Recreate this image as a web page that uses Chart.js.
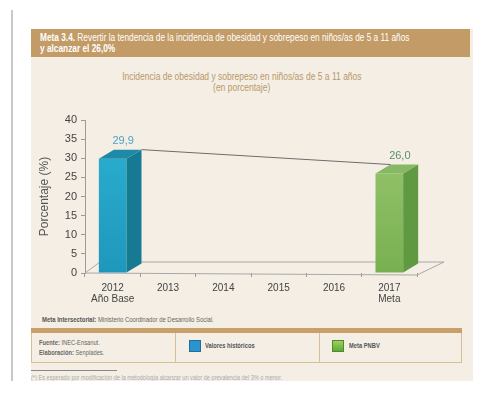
<!DOCTYPE html>
<html lang="es">
<head>
<meta charset="utf-8">
<script src="https://cdn.jsdelivr.net/npm/chart.js@4/dist/chart.umd.min.js"></script>
<style>
  html, body { margin: 0; padding: 0; background: #fff; }
  body { width: 483px; height: 394px; position: relative; overflow: hidden;
         font-family: "Liberation Sans", Arial, sans-serif; }
  .n { display: inline-block; white-space: nowrap; transform-origin: left center; }
  .edge { position: absolute; left: 11px; top: 10px; width: 2px; height: 384px; background: #c9c9c9; }
  .sheet { position: absolute; left: 31px; top: 29px; width: 442px; height: 352px; background: #f4eee4; }
  .head { position: absolute; left: 31px; top: 29px; width: 439px; height: 28px; background: #c29b66;
          color: #fff; font-size: 10px; line-height: 11px; box-sizing: border-box; padding: 3px 0 0 9px; }
  .head .n { transform: scaleX(0.83); }
  .ctitle { position: absolute; left: 31px; top: 71px; width: 422px; text-align: center;
            color: #b8996a; font-size: 10px; line-height: 11px; }
  .ctitle .n { transform: scaleX(0.85); transform-origin: center; }
  .chart { position: absolute; left: 31px; top: 106px; width: 442px; height: 205px; }
  .inter { position: absolute; left: 42px; top: 315px; font-size: 8px; color: #666; }
  .inter .n { transform: scaleX(0.74); }
  .inter b { color: #555; }
  .band { position: absolute; left: 31px; top: 328px; width: 431px; height: 5px; background: #c9a06a; }
  .tbl { position: absolute; left: 31px; top: 333px; width: 431px; height: 30px; box-sizing: border-box;
         border: 1px solid #d9bf98; border-top: none; }
  .cell { position: absolute; top: 0; height: 29px; box-sizing: border-box; font-size: 8px; color: #666; }
  .cell .n { transform: scaleX(0.72); }
  .c1 { left: 0; width: 144px; padding: 5px 0 0 7px; line-height: 10px; border-right: 1px solid #d9bf98; }
  .c2 { left: 144px; width: 144px; border-right: 1px solid #d9bf98; }
  .c3 { left: 288px; width: 142px; }
  .sw { position: absolute; top: 7px; width: 12px; height: 12px; box-sizing: border-box; }
  .lab { position: absolute; top: 8px; font-weight: bold; color: #555; font-size: 8px; }
  .rule { position: absolute; left: 31px; top: 370px; width: 86px; height: 1px; background: #888; }
  .note { position: absolute; left: 31px; top: 374px; font-size: 6.5px; color: #aaa; }
  .note .n { transform: scaleX(0.86); }
  .foot { position: absolute; left: 0; top: 381px; width: 483px; height: 13px; background: #fff; }
</style>
</head>
<body>
<div class="edge"></div>
<div class="sheet"></div>
<div class="head"><span class="n"><b>Meta 3.4.</b> Revertir la tendencia de la incidencia de obesidad y sobrepeso en niños/as de 5 a 11 años</span><br><span class="n"><b>y alcanzar el 26,0%</b></span></div>
<div class="ctitle"><span class="n">Incidencia de obesidad y sobrepeso en niños/as de 5 a 11 años</span><br><span class="n">(en porcentaje)</span></div>
<div class="chart"><canvas id="chart"></canvas></div>
<div class="inter"><span class="n"><b>Meta Intersectorial:</b> Ministerio Coordinador de Desarrollo Social.</span></div>
<div class="band"></div>
<div class="tbl">
  <div class="cell c1"><span class="n"><b>Fuente:</b> INEC-Ensanut.</span><br><span class="n"><b>Elaboración:</b> Senplades.</span></div>
  <div class="cell c2"><div class="sw" style="left:13px;background:#2b93cf;border:1px solid #1f6f9e"></div><div class="lab" style="left:29px"><span class="n">Valores históricos</span></div></div>
  <div class="cell c3"><div class="sw" style="left:12px;background:linear-gradient(#9fd25a,#5ea83c);border:1px solid #4f8a32"></div><div class="lab" style="left:29px"><span class="n">Meta PNBV</span></div></div>
</div>
<div class="rule"></div>
<div class="note"><span class="n">(*) Es esperado por modificación de la metodología alcanzar un valor de prevalencia del 3% o menor.</span></div>
<div class="foot"></div>

<script>
const years = [["2012", "Año Base"], "2013", "2014", "2015", "2016", ["2017", "Meta"]];
const historicos = [29.9, null, null, null, null, null];
const metaPNBV = [null, null, null, null, null, 26.0];
const yTicks = [0, 5, 10, 15, 20, 25, 30, 35, 40];

const depthX = 15;
const depthY = 9;
const axisFont = "'Liberation Sans', Arial, sans-serif";

// front / side / top face colours per dataset
const faces = [
  { front: ["#2bb2d2", "#1f97bd"], side: "#177a93", top: "#1d8ba7", label: "#4aa3c6" },
  { front: ["#9cc873", "#78b050"], side: "#5f9a42", top: "#87b863", label: "#5a8f78" },
];

const fmt = v => v.toFixed(1).replace(".", ",");

// extruded bars, floor and trend line
const bars3d = {
  id: "bars3d",
  beforeDatasetsDraw(chart) {
    const { ctx, chartArea: a } = chart;
    ctx.save();
    ctx.strokeStyle = "#a8a8a8";
    ctx.lineWidth = 1;
    ctx.beginPath();
    ctx.moveTo(a.left, a.bottom);
    ctx.lineTo(a.left + depthX, a.bottom - depthY - 2);
    ctx.lineTo(a.right + depthX + 12, a.bottom - depthY - 2);
    ctx.lineTo(a.right, a.bottom + 2);
    ctx.closePath();
    ctx.stroke();
    ctx.restore();
  },
  afterDatasetsDraw(chart) {
    const { ctx } = chart;
    const tops = [];
    chart.data.datasets.forEach((ds, di) => {
      const meta = chart.getDatasetMeta(di);
      meta.data.forEach((bar, i) => {
        const v = ds.data[i];
        if (v == null) return;
        const f = faces[di];
        const l = bar.x - bar.width / 2, r = bar.x + bar.width / 2;
        const t = bar.y, b = bar.base;
        ctx.save();
        ctx.fillStyle = f.side;
        ctx.beginPath();
        ctx.moveTo(r, t); ctx.lineTo(r + depthX, t - depthY);
        ctx.lineTo(r + depthX, b - depthY); ctx.lineTo(r, b);
        ctx.closePath(); ctx.fill();
        ctx.fillStyle = f.top;
        ctx.beginPath();
        ctx.moveTo(l, t); ctx.lineTo(l + depthX, t - depthY);
        ctx.lineTo(r + depthX, t - depthY); ctx.lineTo(r, t);
        ctx.closePath(); ctx.fill();
        ctx.fillStyle = f.label;
        ctx.font = "11px " + axisFont;
        ctx.textAlign = "center";
        ctx.textBaseline = "bottom";
        ctx.fillText(fmt(v), bar.x + depthX * 0.7, t - depthY - 3);
        ctx.restore();
        tops.push({ l, r, t });
      });
    });
    if (tops.length === 2) {
      ctx.save();
      ctx.strokeStyle = "#6d6d6d";
      ctx.lineWidth = 1;
      ctx.beginPath();
      ctx.moveTo(tops[0].r + depthX, tops[0].t - depthY);
      ctx.lineTo(tops[1].l + depthX, tops[1].t - depthY);
      ctx.stroke();
      ctx.restore();
    }
  },
};

function frontFill(colors) {
  return (c) => {
    const a = c.chart.chartArea;
    if (!a) return colors[0];
    const g = c.chart.ctx.createLinearGradient(0, a.top, 0, a.bottom);
    g.addColorStop(0, colors[0]);
    g.addColorStop(1, colors[1]);
    return g;
  };
}

new Chart(document.getElementById("chart"), {
  type: "bar",
  data: {
    labels: years,
    datasets: [
      { label: "Valores históricos", data: historicos, backgroundColor: frontFill(faces[0].front) },
      { label: "Meta PNBV", data: metaPNBV, backgroundColor: frontFill(faces[1].front) },
    ],
  },
  options: {
    responsive: true,
    maintainAspectRatio: false,
    animation: false,
    layout: { padding: { top: 14, right: 56, left: 6, bottom: 0 } },
    datasets: { bar: { categoryPercentage: 1, barPercentage: 0.5 } },
    plugins: { legend: { display: false }, tooltip: { enabled: false } },
    scales: {
      x: {
        stacked: true,
        grid: { display: true, offset: true, drawOnChartArea: false, tickLength: 4, color: "#9a9a9a" },
        border: { display: false },
        ticks: { color: "#444", font: { size: 10, family: axisFont, lineHeight: 1.1 }, padding: 6, maxRotation: 0 },
      },
      y: {
        stacked: true,
        min: 0,
        max: 40,
        afterBuildTicks: (s) => { s.ticks = yTicks.map(v => ({ value: v })); },
        afterFit: (s) => { s.width = 48; },
        grid: { drawOnChartArea: false, tickLength: 4, color: "#9a9a9a" },
        border: { color: "#9a9a9a" },
        ticks: { color: "#444", font: { size: 11, family: axisFont }, padding: 4 },
        title: { display: true, text: "Porcentaje (%)", color: "#555", font: { size: 12, family: axisFont }, padding: 0 },
      },
    },
  },
  plugins: [bars3d],
});
</script>
</body>
</html>
